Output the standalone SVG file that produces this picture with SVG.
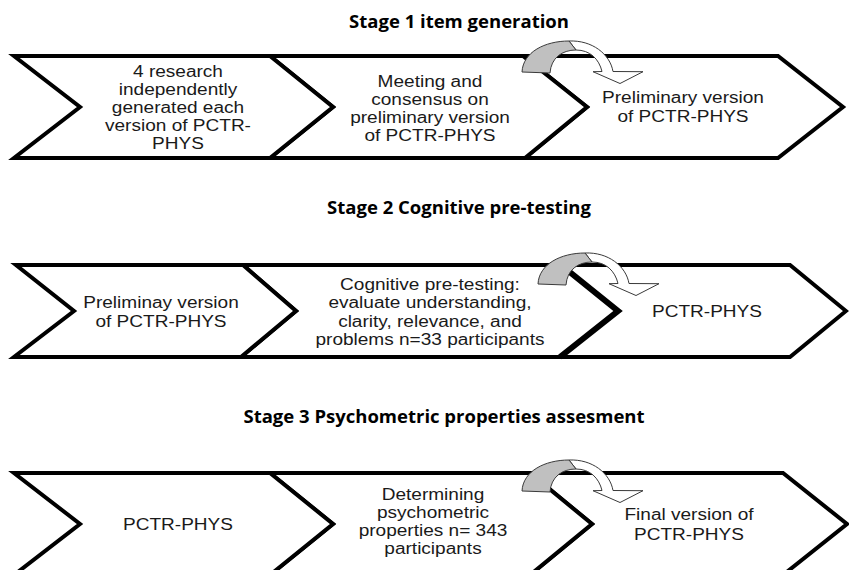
<svg xmlns="http://www.w3.org/2000/svg" width="849" height="570" viewBox="0 0 849 570">
<style>
.bg{fill:#ffffff}
.chev{fill:#ffffff;stroke:#000000;stroke-width:4;stroke-linejoin:miter}
.edge{fill:none;stroke:#000000;stroke-width:6;stroke-linejoin:miter}
.t{font-family:"Liberation Sans",Arial,sans-serif;font-size:16px;fill:#1a1a1a;text-anchor:middle}
.h{font-family:"Open Sans","Liberation Sans",sans-serif;font-size:18.5px;font-weight:bold;fill:#000000;text-anchor:middle}
.back{fill:#c0c0c0;stroke:#3a3a3a;stroke-width:1;stroke-linejoin:round}
.front{fill:#ffffff;stroke:#3a3a3a;stroke-width:1;stroke-linejoin:round}
</style>
<defs>
<g id="curl">
<path class="front" d="M569,41 C592,40 610,54 613,71.5 L643,71.7 L620,83.5 L593,71.7 L602,71.5 C599,59 590,50 576,50 Z"/>
<path class="back" d="M522,72 C523,52 545,41 569,41 L576,50 C562,50 551,58 550,73 Z"/>
</g>
</defs>
<rect class="bg" x="0" y="0" width="849" height="570"/>

<g id="titles">
<text class="h" x="459" y="28">Stage 1 item generation</text>
<text class="h" x="459" y="214">Stage 2 Cognitive pre-testing</text>
<text class="h" x="444" y="423">Stage 3 Psychometric properties assesment</text>
</g>

<!-- Stage 1 -->
<g id="s1n3">
<polygon class="chev" points="523,56 778,56 843,107 778,158 525,158 587,107"/>
<g transform="matrix(1.19 0 0 1 -129.77 0)">
<text class="t" x="683" y="103">Preliminary version</text>
<text class="t" x="683" y="122">of PCTR-PHYS</text>
</g>
</g>
<g id="s1n2">
<polygon class="chev" points="270,56 523,56 587,107 525,158 270,158 333,107"/>
<g transform="matrix(1.19 0 0 1 -81.7 0)">
<text class="t" x="430" y="87">Meeting and</text>
<text class="t" x="430" y="105">consensus on</text>
<text class="t" x="430" y="123">preliminary version</text>
<text class="t" x="430" y="141">of PCTR-PHYS</text>
</g>
</g>
<g id="s1n1">
<polygon class="chev" points="14,56 270,56 333,107 270,158 14,158 80,107"/>
<g transform="matrix(1.19 0 0 1 -33.82 0)">
<text class="t" x="178" y="77">4 research</text>
<text class="t" x="178" y="95">independently</text>
<text class="t" x="178" y="113">generated each</text>
<text class="t" x="178" y="131">version of PCTR-</text>
<text class="t" x="178" y="149">PHYS</text>
</g>
</g>

<!-- Stage 2 -->
<g id="s2n3">
<polygon class="chev" points="561,265 790,265 846,311 790,357 560,357 618,311"/>
<g transform="matrix(1.19 0 0 1 -134.33 0)">
<text class="t" x="707" y="317">PCTR-PHYS</text>
</g>
</g>
<g id="s2n2">
<polygon class="chev" points="243,265 561,265 618,311 560,357 241,357 296,311"/>
<polyline class="edge" points="561,265 618,311 560,357"/>
<g transform="matrix(1.19 0 0 1 -81.7 0)">
<text class="t" x="430" y="290">Cognitive pre-testing:</text>
<text class="t" x="430" y="308">evaluate understanding,</text>
<text class="t" x="430" y="327">clarity, relevance, and</text>
<text class="t" x="430" y="345">problems n=33 participants</text>
</g>
</g>
<g id="s2n1">
<polygon class="chev" points="16,265 243,265 296,311 241,357 14,357 74,311"/>
<g transform="matrix(1.19 0 0 1 -30.59 0)">
<text class="t" x="161" y="308">Preliminay version</text>
<text class="t" x="161" y="327">of PCTR-PHYS</text>
</g>
</g>

<!-- Stage 3 -->
<g id="s3n3">
<polygon class="chev" points="530,473 783,473 847,524 783,575 530,575 592,524"/>
<g transform="matrix(1.19 0 0 1 -130.91 0)">
<text class="t" x="689" y="520">Final version of</text>
<text class="t" x="689" y="540">PCTR-PHYS</text>
</g>
</g>
<g id="s3n2">
<polygon class="chev" points="270,473 530,473 592,524 530,575 270,575 333,524"/>
<g transform="matrix(1.19 0 0 1 -82.27 0)">
<text class="t" x="433" y="500">Determining</text>
<text class="t" x="433" y="518">psychometric</text>
<text class="t" x="433" y="536">properties n= 343</text>
<text class="t" x="433" y="554">participants</text>
</g>
</g>
<g id="s3n1">
<polygon class="chev" points="14,473 270,473 333,524 270,575 14,575 80,524"/>
<g transform="matrix(1.19 0 0 1 -33.82 0)">
<text class="t" x="178" y="530">PCTR-PHYS</text>
</g>
</g>

<g id="connectors">
<use href="#curl"/>
<use href="#curl" transform="translate(16,212)"/>
<use href="#curl" transform="translate(0,419)"/>
</g>
</svg>
